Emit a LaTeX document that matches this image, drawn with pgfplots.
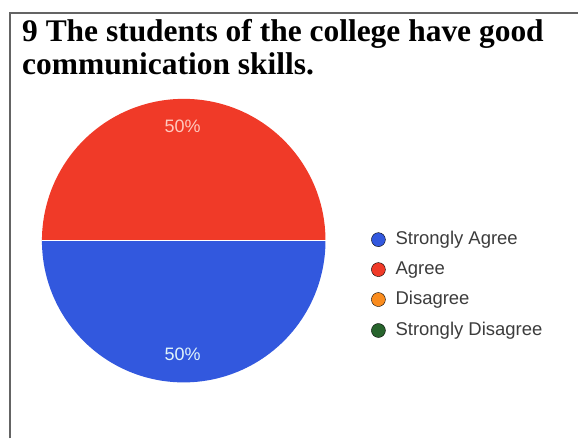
\documentclass[border=0pt]{standalone}
\usepackage{pgfplots}
\pgfplotsset{compat=1.18}
\usepackage{fontspec}
\setmainfont{Liberation Serif}
\newfontfamily\legfont{Liberation Sans}
\definecolor{cblue}{RGB}{50,88,222}
\definecolor{cred}{RGB}{240,58,40}
\definecolor{corange}{RGB}{250,140,30}
\definecolor{cgreen}{RGB}{40,100,45}
\definecolor{frame}{RGB}{100,100,100}
\definecolor{legtext}{RGB}{60,60,60}
\definecolor{toplab}{RGB}{255,200,190}
\definecolor{botlab}{RGB}{225,245,250}
% pie data (percent)
\def\vSA{50}\def\vA{50}\def\vD{0}\def\vSD{0}
\pgfmathsetmacro{\aS}{180}
\pgfmathsetmacro{\aE}{180+3.6*\vSA}
\pgfmathsetmacro{\bE}{\aE+3.6*\vA}
\begin{document}
\begin{tikzpicture}
\begin{axis}[
  width=579pt, height=439pt, scale only axis,
  xmin=0, xmax=579, ymin=0, ymax=439,
  hide axis, clip=false,
]
\path (rel axis cs:0,0) rectangle (rel axis cs:1,1);
% legend markers
\addplot[only marks, mark=*, mark size=7pt, draw=none, fill=cblue] coordinates {(379,199)};
\addplot[only marks, mark=*, mark size=7pt, draw=none, fill=cred] coordinates {(379,169)};
\addplot[only marks, mark=*, mark size=7pt, draw=none, fill=corange] coordinates {(379,139)};
\addplot[only marks, mark=*, mark size=7pt, draw=none, fill=cgreen] coordinates {(379,108)};
% frame
\draw[frame, line width=1.8pt] (axis cs:10,0) -- (axis cs:10,426) -- (axis cs:579,426);
% pie
\fill[cblue] (axis cs:184,198) -- ++(\aS:142pt) arc[start angle=\aS, end angle=\aE, radius=142pt] -- cycle;
\fill[cred] (axis cs:184,198) -- ++(\aE:142pt) arc[start angle=\aE, end angle=\bE, radius=142pt] -- cycle;
\draw[white, line width=1.2pt] (axis cs:42,198) -- (axis cs:326,198);
\node[font=\legfont\fontsize{18}{20}\selectfont, text=toplab] at (axis cs:183,312) {\vA\%};
\node[font=\legfont\fontsize{18}{20}\selectfont, text=botlab] at (axis cs:183,84) {\vSA\%};
% title
\node[anchor=base west, font=\bfseries\fontsize{31.5}{33}\selectfont, inner sep=0pt] at (axis cs:22,397) {9 The students of the college have good};
\node[anchor=base west, font=\bfseries\fontsize{31.5}{33}\selectfont, inner sep=0pt] at (axis cs:22,364) {communication skills.};
% legend text
\node[anchor=west, inner sep=0pt, font=\legfont\fontsize{18.5}{20}\selectfont, text=legtext] at (axis cs:396,199) {Strongly Agree};
\node[anchor=west, inner sep=0pt, font=\legfont\fontsize{18.5}{20}\selectfont, text=legtext] at (axis cs:396,169) {Agree};
\node[anchor=west, inner sep=0pt, font=\legfont\fontsize{18.5}{20}\selectfont, text=legtext] at (axis cs:396,139) {Disagree};
\node[anchor=west, inner sep=0pt, font=\legfont\fontsize{18.5}{20}\selectfont, text=legtext] at (axis cs:396,108) {Strongly Disagree};
\end{axis}
\end{tikzpicture}
\end{document}
